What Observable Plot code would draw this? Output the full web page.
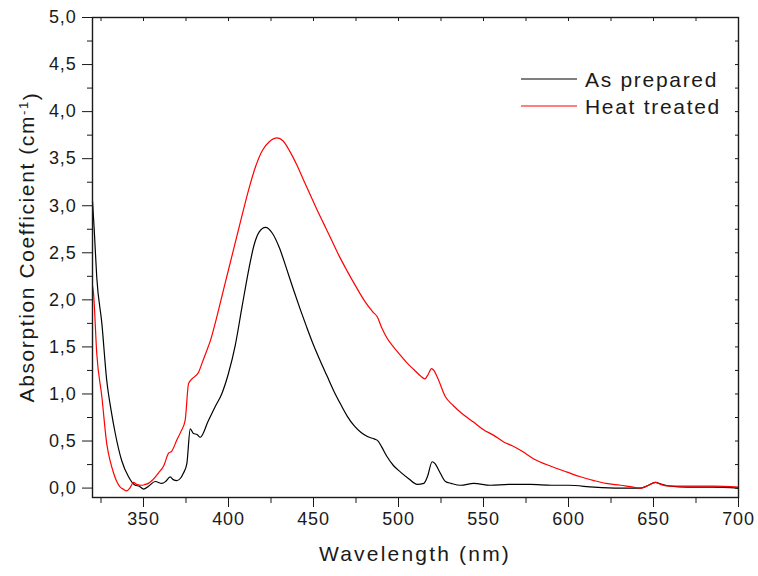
<!DOCTYPE html>
<html>
<head>
<meta charset="utf-8">
<script src="https://cdn.jsdelivr.net/npm/d3@7"></script>
<script src="https://cdn.jsdelivr.net/npm/@observablehq/plot@0.6"></script>
<style>
  html, body { margin: 0; padding: 0; background: #fff; }
  #chart { width: 758px; height: 576px; position: relative; }
  svg { font-family: "Liberation Sans", Arial, sans-serif; }
</style>
</head>
<body>
<div id="chart"></div>
<script>
// ---- data ----
const seriesNames = ["As prepared", "Heat treated"];
const seriesColors = ["#000000", "#ff0000"];

const wlAsPrepared = [320,321,322.5,325.5,328.4,331,333.4,337.2,341.2,345.1,347.5,350,353,356.9,360.8,363,365.7,367.5,369.6,372,373.5,375.5,377.5,379.4,381.5,383.4,388,392,396,400,404,408,412,415,418,421.8,425.7,430,434,438,442,446,450,454,458,462,466,470,474,478,482,486,488,490,493.4,497,501.2,506,511,514.9,517,519.8,521.5,523.7,527.6,531,536.5,544.3,554.1,565,577.6,590,600,615,630,642.4,647,651,655,660,670,685,700];
const absAsPrepared = [3.05,2.75,2.24,1.75,1.14,0.82,0.58,0.29,0.12,0.03,0.02,-0.01,0.02,0.07,0.05,0.07,0.12,0.09,0.08,0.11,0.16,0.26,0.63,0.58,0.57,0.54,0.71,0.86,1.00,1.22,1.52,1.93,2.33,2.58,2.72,2.77,2.71,2.55,2.34,2.12,1.91,1.71,1.52,1.35,1.19,1.03,0.89,0.76,0.66,0.59,0.545,0.52,0.50,0.44,0.33,0.24,0.17,0.10,0.04,0.05,0.12,0.28,0.26,0.19,0.07,0.05,0.03,0.05,0.03,0.04,0.04,0.03,0.03,0.01,0.00,0.00,0.03,0.06,0.04,0.02,0.01,0.01,0.00];

const wlHeatTreated = [320,320.6,322.5,325.5,328.4,330.5,332.4,334,336.3,338,340.2,342,344.1,346,349,351,352.9,355,358.8,362,364.7,366.5,369.6,372,374.5,376.5,378.5,382.4,384.5,387.2,389.4,392,396,400,404,408,412,416,420,424,428.6,432,436,440,444,448,452,456,460,465,470,475,480,485,487.5,490,493.4,497,501.2,505,509,513,515.5,517.5,519.4,520.8,522.8,527.6,532,537.5,544.3,550,556.1,561.9,566.9,572,579.6,590,599.2,607,615,622,630.6,638,642.4,646,651.2,654.1,660,670,685,700];
const absHeatTreated = [2.15,2.07,1.43,0.97,0.47,0.28,0.16,0.08,0.01,-0.01,-0.03,0.00,0.06,0.04,0.03,0.04,0.05,0.08,0.16,0.24,0.37,0.39,0.51,0.60,0.72,1.11,1.16,1.23,1.33,1.46,1.57,1.74,2.03,2.32,2.61,2.90,3.18,3.42,3.59,3.68,3.72,3.69,3.58,3.44,3.28,3.12,2.96,2.81,2.66,2.47,2.30,2.14,1.99,1.87,1.82,1.71,1.59,1.50,1.41,1.33,1.26,1.19,1.16,1.21,1.27,1.25,1.18,0.97,0.88,0.79,0.70,0.62,0.56,0.49,0.45,0.40,0.31,0.23,0.17,0.12,0.08,0.05,0.03,0.01,0.00,0.02,0.06,0.04,0.02,0.02,0.02,0.01];

const xMajorTicks = [350,400,450,500,550,600,650,700];
const xMinorTicks = [325,375,425,475,525,575,625,675];
const yMajorTicks = [0,0.5,1,1.5,2,2.5,3,3.5,4,4.5,5];
const yMinorTicks = [0.25,0.75,1.25,1.75,2.25,2.75,3.25,3.75,4.25,4.75];

const xTitle = "Wavelength (nm)";
const yTitle = "Absorption Coefficient (cm";
const yTitleSup = "-1";

// ---- build table ----
const rows = [];
wlAsPrepared.forEach((w, i) => rows.push({series: seriesNames[0], wl: w, a: absAsPrepared[i]}));
wlHeatTreated.forEach((w, i) => rows.push({series: seriesNames[1], wl: w, a: absHeatTreated[i]}));

const fmtY = d => d.toFixed(1).replace(".", ",");
const ink = "#1a1a1a";

const chart = Plot.plot({
  width: 758,
  height: 576,
  marginLeft: 92,
  marginRight: 20,
  marginTop: 17,
  marginBottom: 79,
  x: {domain: [320, 700]},
  y: {domain: [-0.1, 5.0]},
  color: {domain: seriesNames, range: seriesColors},
  style: {fontFamily: "Liberation Sans, Arial, sans-serif", fontSize: "18px", color: ink, background: "#fff"},
  marks: [
    Plot.axisX({ticks: xMajorTicks, tickSize: 10, tickPadding: 5, tickFormat: d => String(d), label: null, fontSize: 18, stroke: ink}),
    Plot.axisX({ticks: xMinorTicks, tickSize: 6, tickFormat: () => "", label: null, stroke: ink}),
    Plot.axisX({anchor: "top", ticks: xMajorTicks.concat(xMinorTicks), tickSize: -3, tickFormat: () => "", label: null, stroke: ink}),
    Plot.axisY({ticks: yMajorTicks, tickSize: 10, tickPadding: 6, tickFormat: fmtY, label: null, fontSize: 18, stroke: ink}),
    Plot.axisY({ticks: yMinorTicks, tickSize: 5, tickFormat: () => "", label: null, stroke: ink}),
    Plot.axisY({anchor: "right", ticks: yMajorTicks.concat(yMinorTicks), tickSize: -4, tickFormat: () => "", label: null, stroke: ink}),
    Plot.line(rows, {x: "wl", y: "a", z: "series", stroke: "series", strokeWidth: 1.2, curve: "monotone-x"}),
    Plot.frame({stroke: ink, strokeWidth: 1.4})
  ]
});

document.getElementById("chart").appendChild(chart);

const svg = d3.select(chart);
// slightly wider tick label spacing, as in the reference
svg.selectAll('g[aria-label="x-axis tick label"] text').attr("letter-spacing", "0.8px");
svg.selectAll('g[aria-label="y-axis tick label"] text').attr("letter-spacing", "0.8px");

// titles and legend
svg.append("text")
  .attr("x", 415).attr("y", 561)
  .attr("text-anchor", "middle")
  .attr("font-size", 21).attr("letter-spacing", "2.2px")
  .attr("fill", ink)
  .text(xTitle);

const yt = svg.append("text")
  .attr("transform", "translate(34,247) rotate(-90)")
  .attr("text-anchor", "middle")
  .attr("font-size", 21).attr("letter-spacing", "1.6px")
  .attr("fill", ink);
yt.append("tspan").text(yTitle);
yt.append("tspan").attr("dy", "-0.5em").attr("font-size", 13).text(yTitleSup);
yt.append("tspan").attr("dy", "0.5em").text(")");

const lg = svg.append("g").attr("text-anchor", "start");
seriesNames.forEach((name, i) => {
  const y = 79 + i * 27;
  lg.append("line").attr("x1", 521).attr("x2", 577).attr("y1", y).attr("y2", y)
    .attr("stroke", seriesColors[i]).attr("stroke-width", 1.2);
  lg.append("text").attr("x", 585).attr("y", y).attr("dy", "0.36em")
    .attr("text-anchor", "start")
    .attr("font-size", 21).attr("letter-spacing", "1.7px").attr("fill", ink).text(name);
});
</script>
</body>
</html>
